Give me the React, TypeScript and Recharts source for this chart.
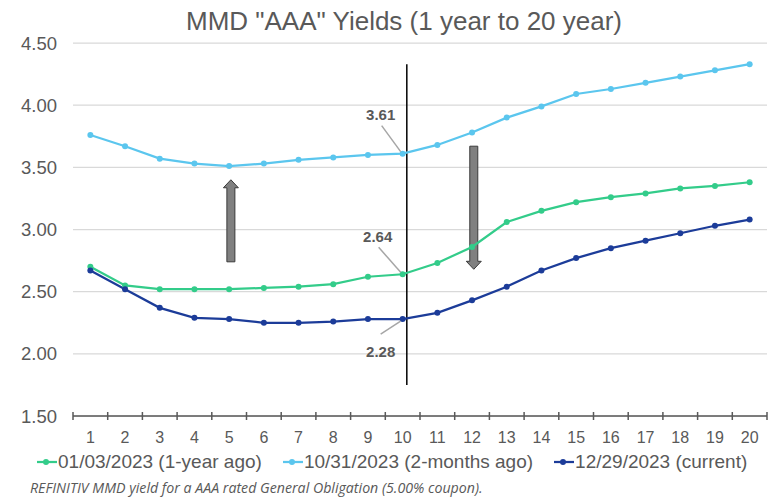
import React from "react";
import {
  LineChart,
  Line,
  XAxis,
  YAxis,
  CartesianGrid,
  ReferenceLine,
  LabelList,
} from "recharts";

const tenors = [1, 2, 3, 4, 5, 6, 7, 8, 9, 10, 11, 12, 13, 14, 15, 16, 17, 18, 19, 20];
const yieldsYearAgo = [2.7, 2.55, 2.52, 2.52, 2.52, 2.53, 2.54, 2.56, 2.62, 2.64, 2.73, 2.86, 3.06, 3.15, 3.22, 3.26, 3.29, 3.33, 3.35, 3.38];
const yieldsTwoMonths = [3.76, 3.67, 3.57, 3.53, 3.51, 3.53, 3.56, 3.58, 3.6, 3.61, 3.68, 3.78, 3.9, 3.99, 4.09, 4.13, 4.18, 4.23, 4.28, 4.33];
const yieldsCurrent = [2.67, 2.52, 2.37, 2.29, 2.28, 2.25, 2.25, 2.26, 2.28, 2.28, 2.33, 2.43, 2.54, 2.67, 2.77, 2.85, 2.91, 2.97, 3.03, 3.08];
const yTicks = [1.5, 2.0, 2.5, 3.0, 3.5, 4.0, 4.5];

// annotations (data units)
const markerTenor = 10.12;
const markerSpan = [1.75, 4.33];
const upArrow = { x: 5.05, from: 2.74, to: 3.4 };
const downArrow = { x: 12.05, from: 3.67, to: 2.68 };

const series = [
  { key: "jan", name: "01/03/2023 (1-year ago)", color: "#33CC8A", values: yieldsYearAgo },
  { key: "oct", name: "10/31/2023 (2-months ago)", color: "#5BC6EE", values: yieldsTwoMonths },
  { key: "dec", name: "12/29/2023 (current)", color: "#1C3C99", values: yieldsCurrent },
];

const data = tenors.map((t, i) => ({
  tenor: t,
  jan: yieldsYearAgo[i],
  oct: yieldsTwoMonths[i],
  dec: yieldsCurrent[i],
}));

const FONT = '"Liberation Sans", Arial, sans-serif';
const TEXT = "#595959";
const BAND = 694 / 20;

const XTick = (props: any) => {
  const { x, y, payload, index } = props;
  return (
    <g>
      <line x1={x - BAND / 2} x2={x - BAND / 2} y1={y - 4} y2={y + 4} stroke={TEXT} strokeWidth={1.5} />
      {index === tenors.length - 1 && (
        <line x1={x + BAND / 2} x2={x + BAND / 2} y1={y - 4} y2={y + 4} stroke={TEXT} strokeWidth={1.5} />
      )}
      <text x={x} y={y + 27} textAnchor="middle" fontSize={16} fill={TEXT} fontFamily={FONT}>
        {payload.value}
      </text>
    </g>
  );
};

const arrowShape = (props: any) => {
  const { x1, y1, x2, y2 } = props;
  const x = x1;
  const dir = y2 < y1 ? -1 : 1; // -1 = pointing up
  const head = 8;
  const neck = y2 - dir * head;
  const pts = [
    [x - 4, y1],
    [x + 4, y1],
    [x + 4, neck],
    [x + 7.5, neck],
    [x, y2],
    [x - 7.5, neck],
    [x - 4, neck],
  ]
    .map((p) => p.join(","))
    .join(" ");
  return <polygon points={pts} fill="#808080" stroke="#3a3a3a" strokeWidth={1} />;
};

const calloutLabel = (dx: number, dy: number, lx: number, ly: number) => (props: any) => {
  const { x, y, value, index } = props;
  if (index !== 9) return null;
  return (
    <g>
      <line x1={x + lx} y1={y + ly} x2={x - 2} y2={y + (ly < 0 ? -2 : 2)} stroke="#a6a6a6" strokeWidth={1.5} />
      <text
        x={x + dx}
        y={y + dy}
        textAnchor="middle"
        dominantBaseline="central"
        fontSize={15}
        fontWeight="bold"
        fill={TEXT}
        fontFamily={FONT}
      >
        {Number(value).toFixed(2)}
      </text>
    </g>
  );
};

const App: React.FC = () => {
  return (
    <div style={styles.container}>
      <div style={styles.title}>MMD "AAA" Yields (1 year to 20 year)</div>
      <div style={{ position: "absolute", left: 0, top: 0 }}>
        <LineChart width={772} height={445} data={data} margin={{ top: 43, right: 5, left: 0, bottom: 0 }}>
          <CartesianGrid vertical={false} stroke="#d9d9d9" strokeWidth={1.25} />
          <XAxis
            dataKey="tenor"
            type="number"
            domain={[0.5, 20.5]}
            ticks={tenors}
            interval={0}
            height={29}
            tickSize={0}
            tickMargin={0}
            tickLine={false}
            axisLine={{ stroke: TEXT, strokeWidth: 1.5 }}
            tick={<XTick />}
          />
          <YAxis
            type="number"
            domain={[1.5, 4.5]}
            ticks={yTicks}
            width={73}
            tickSize={0}
            tickMargin={16}
            axisLine={false}
            tickLine={false}
            tickFormatter={(v: number) => v.toFixed(2)}
            tick={{ fontSize: 18.5, fill: TEXT, fontFamily: FONT }}
          />
          <ReferenceLine
            segment={[
              { x: markerTenor, y: markerSpan[0] },
              { x: markerTenor, y: markerSpan[1] },
            ]}
            stroke="#000"
            strokeWidth={1.5}
          />
          <ReferenceLine
            segment={[
              { x: upArrow.x, y: upArrow.from },
              { x: upArrow.x, y: upArrow.to },
            ]}
            shape={arrowShape}
          />
          <ReferenceLine
            segment={[
              { x: downArrow.x, y: downArrow.from },
              { x: downArrow.x, y: downArrow.to },
            ]}
            shape={arrowShape}
          />
          {series.map((s) => (
            <Line
              key={s.key}
              dataKey={s.key}
              name={s.name}
              type="linear"
              stroke={s.color}
              strokeWidth={2.25}
              dot={{ r: 3, fill: s.color, stroke: s.color, strokeWidth: 0 }}
              isAnimationActive={false}
            >
              {s.key === "oct" && <LabelList dataKey="oct" content={calloutLabel(-22, -39, -21, -28)} />}
              {s.key === "jan" && <LabelList dataKey="jan" content={calloutLabel(-25, -38, -24, -27)} />}
              {s.key === "dec" && <LabelList dataKey="dec" content={calloutLabel(-22, 32, -22, 15)} />}
            </Line>
          ))}
        </LineChart>
      </div>
      <div style={styles.legend}>
        {series.map((s) => (
          <div key={s.key} style={styles.legendItem}>
            <svg width={20} height={10} style={{ marginRight: 1 }}>
              <line x1={0} x2={20} y1={5} y2={5} stroke={s.color} strokeWidth={2.25} />
              <circle cx={9} cy={5} r={3} fill={s.color} />
            </svg>
            <span>{s.name}</span>
          </div>
        ))}
      </div>
      <div style={styles.footnote}>
        REFINITIV MMD yield for a AAA rated General Obligation (5.00% coupon).
      </div>
    </div>
  );
};

const styles: { [key: string]: React.CSSProperties } = {
  container: {
    position: "absolute",
    left: 0,
    top: 0,
    width: 772,
    height: 499,
    background: "#fff",
    overflow: "hidden",
    fontFamily: FONT,
  },
  title: {
    position: "absolute",
    left: 404,
    top: 6,
    transform: "translateX(-50%)",
    whiteSpace: "nowrap",
    fontSize: 26,
    color: TEXT,
  },
  legend: {
    position: "absolute",
    left: 37,
    top: 450,
    display: "flex",
    gap: 21,
    fontSize: 19,
    color: TEXT,
    whiteSpace: "nowrap",
    lineHeight: "24px",
  },
  legendItem: {
    display: "flex",
    alignItems: "center",
  },
  footnote: {
    position: "absolute",
    left: 30,
    top: 478,
    fontFamily: '"Open Sans", sans-serif',
    fontStyle: "italic",
    fontSize: 14.2,
    lineHeight: "19px",
    color: TEXT,
    whiteSpace: "nowrap",
  },
};

export default App;
